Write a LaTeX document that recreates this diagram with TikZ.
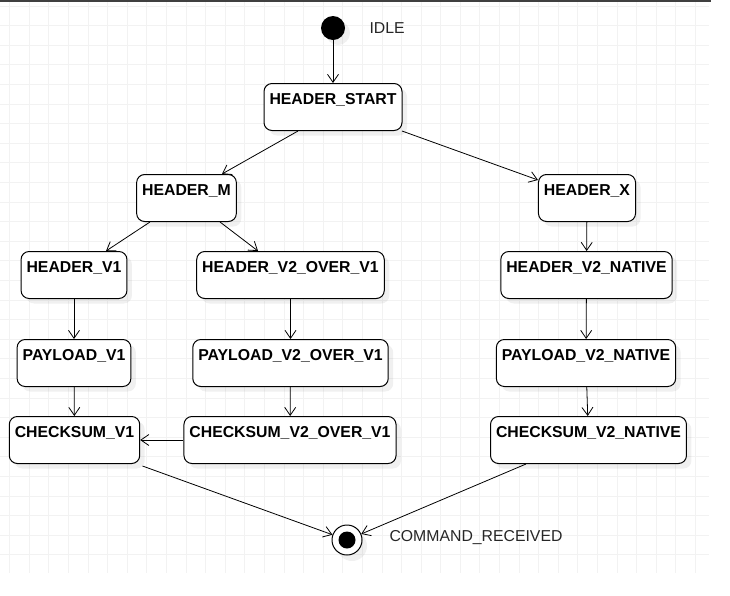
\documentclass[tikz,border=0pt]{standalone}
\usepackage{fontspec}
\setmainfont{Liberation Sans}
\usetikzlibrary{arrows.meta,shadows}

\tikzset{
  etat/.style={draw, fill=white, rounded corners=8pt, line width=1pt,
    anchor=north, inner xsep=5.5pt, inner ysep=4pt,
    text height=17pt, text depth=22pt,
    font=\fontsize{15.8}{18}\selectfont\bfseries,
    drop shadow={shadow xshift=5pt, shadow yshift=-5pt, opacity=0.12}},
  debut/.style={circle, fill=black, minimum size=24pt, inner sep=0pt,
    drop shadow={shadow xshift=5pt, shadow yshift=-5pt, opacity=0.12}},
  fin/.style={circle, draw, fill=white, line width=1pt, minimum size=30pt,
    inner sep=0pt,
    drop shadow={shadow xshift=5pt, shadow yshift=-6pt, opacity=0.12}},
  nom/.style={anchor=west, text=black!85,
    font=\fontsize{15.8}{18}\selectfont},
  fleche/.style={-{Straight Barb[length=8pt,width=11pt]}, line width=0.8pt},
  grille/.style={black!5, line width=0.8pt}
}

\begin{document}
\begin{tikzpicture}[x=1pt,y=-1pt]

\useasboundingbox (0,0) rectangle (730,595);

% Grille
\foreach \i in {0,...,35}
{
\draw[grille] (9.7+19.59*\i,0) -- (9.7+19.59*\i,573);
}

\foreach \j in {0,...,28}
{
\draw[grille] (0,6+19.6*\j) -- (709,6+19.6*\j);
}

\draw[black!75, line width=1.5pt] (0,0.75) -- (711,0.75);

% Debut
\node[debut] (idle) at (333,28) {};

\node[nom] (idlenom) at (366,28)
{IDLE};

% Etats
\node[etat] (hs) at (333,83) {HEADER\_START};

\node[etat] (hm) at (186.5,174) {HEADER\_M};
\node[etat] (hx) at (587,174) {HEADER\_X};

\node[etat] (hv1) at (74,251) {HEADER\_V1};
\node[etat] (hv2o) at (290.5,251) {HEADER\_V2\_OVER\_V1};
\node[etat] (hv2n) at (586.5,251) {HEADER\_V2\_NATIVE};

\node[etat] (pv1) at (74,339) {PAYLOAD\_V1};
\node[etat] (pv2o) at (290.5,339) {PAYLOAD\_V2\_OVER\_V1};
\node[etat] (pv2n) at (586,339) {PAYLOAD\_V2\_NATIVE};

\node[etat] (cv1) at (74.5,416) {CHECKSUM\_V1};
\node[etat] (cv2o) at (290,416) {CHECKSUM\_V2\_OVER\_V1};
\node[etat] (cv2n) at (588.5,416) {CHECKSUM\_V2\_NATIVE};

% Fin
\node[fin] (recu) at (347,540) {};

\node[circle, fill=black, minimum size=17pt, inner sep=0pt] (recupt) at (recu) {};

\node[nom] (recunom) at (386,538)
{COMMAND\_RECEIVED};

% Transitions
\draw[fleche] (idle) -- (hs);

\draw[fleche] ([xshift=-35pt]hs.south) -- ([xshift=35.5pt]hm.north);
\draw[fleche] ([xshift=69pt]hs.south) -- ([yshift=-6pt]hx.north west);

\draw[fleche] ([xshift=-36.5pt]hm.south) -- ([xshift=32pt]hv1.north);
\draw[fleche] ([xshift=33.5pt]hm.south) -- ([xshift=-32.5pt]hv2o.north);
\draw[fleche] (hx) -- (hv2n);

\draw[fleche] (hv1) -- (pv1);
\draw[fleche] (hv2o) -- (pv2o);
\draw[fleche] (hv2n) -- (pv2n);

\draw[fleche] (pv1) -- (cv1);
\draw[fleche] (pv2o) -- (cv2o);
\draw[fleche] (pv2n) -- (cv2n);

\draw[fleche] (cv2o.west) -- (cv1.east);

\draw[fleche] ([xshift=68pt,yshift=-2pt]cv1.south) -- (recu);
\draw[fleche] ([xshift=-62.5pt]cv2n.south) -- (recu);

\end{tikzpicture}
\end{document}
